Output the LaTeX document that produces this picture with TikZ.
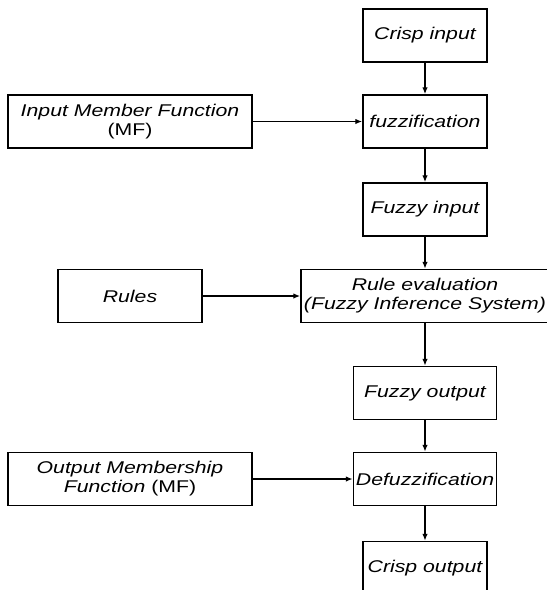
\documentclass[tikz,border=0pt]{standalone}
\usepackage{fontspec}
\newfontfamily\blockfont[FakeStretch=1.25]{Liberation Sans}
\usetikzlibrary{positioning,arrows.meta}

\tikzset{
  block/.style={draw, line width=1.5pt, inner sep=0pt, minimum height=53pt, align=center,
    font={\blockfont\itshape\fontsize{17}{19}\selectfont}},
  narrow/.style={block, minimum width=124pt},
  wide/.style={block, minimum width=143pt},
  side/.style={block, minimum width=244pt},
}

\begin{document}
\begin{tikzpicture}[>={Latex[length=7pt,width=5.5pt]}, line width=1.3pt, node distance=87pt, on grid]
  \useasboundingbox (0pt,0pt) rectangle (547pt,-590pt);
  \clip (0pt,0pt) rectangle (547pt,-590pt);

  % main chain
  \node[narrow] (crisp_in) at (425pt,-35.5pt) {Crisp input};
  \node[narrow] (fuzz) [below=86pt of crisp_in] {fuzzification};
  \node[narrow] (fuzzy_in) [below=88pt of fuzz] {Fuzzy input};
  \node[block, minimum width=248pt] (rule_eval) [below=86.5pt of fuzzy_in] {Rule evaluation\\(Fuzzy Inference System)};
  \node[wide] (fuzzy_out) [below=97pt of rule_eval] {Fuzzy output};
  \node[wide] (defuzz) [below=86pt of fuzzy_out] {Defuzzification};
  \node[narrow] (crisp_out) [below=89pt of defuzz] {Crisp output};

  % side inputs
  \node[side] (in_mf) [left=295pt of fuzz] {Input Member Function\\{\upshape(MF)}};
  \node[block, minimum width=144pt] (rules) [left=295pt of rule_eval] {Rules};
  \node[side] (out_mf) [left=295pt of defuzz] {Output Membership\\Function {\upshape(MF)}};

  \path[->]
    (crisp_in) edge (fuzz)
    (fuzz) edge (fuzzy_in)
    (fuzzy_in) edge (rule_eval)
    (rule_eval) edge (fuzzy_out)
    (fuzzy_out) edge (defuzz)
    (defuzz) edge (crisp_out)
    (in_mf) edge (fuzz)
    (rules) edge (rule_eval)
    (out_mf) edge (defuzz)
  ;
\end{tikzpicture}
\end{document}
